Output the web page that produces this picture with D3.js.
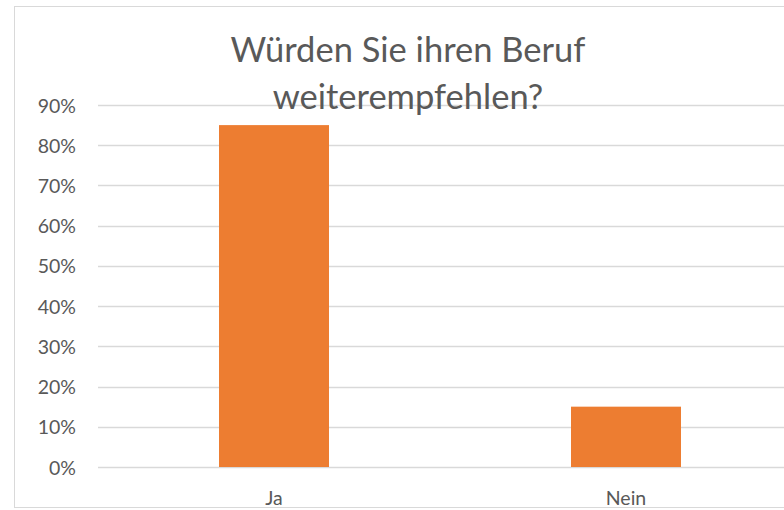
<!DOCTYPE html>
<html><head><meta charset="utf-8">
<script src="https://cdn.jsdelivr.net/npm/d3@7"></script>
<style>html,body{margin:0;padding:0;background:#fff;}svg{display:block;}</style>
</head><body>
<svg id="chart" width="784" height="510"></svg>
<script>
const categories = ["Ja", "Nein"];
const values = [0.85, 0.15];
const yTicks = [0, 0.1, 0.2, 0.3, 0.4, 0.5, 0.6, 0.7, 0.8, 0.9];
const titleLines = ["Würden Sie ihren Beruf", "weiterempfehlen?"];

const svg = d3.select("#chart");
const font = "Lato, 'Open Sans', sans-serif";
const textColor = "#595959";

svg.append("rect").attr("x", 14.5).attr("y", 6.5).attr("width", 800).attr("height", 501)
  .attr("fill", "#fff").attr("stroke", "#d9d9d9").attr("stroke-width", 1);

const x = d3.scaleBand().domain(categories).range([98, 802]).paddingInner(0.6875).paddingOuter(0.34375);
const y = d3.scaleLinear().domain([0, 0.9]).range([467, 105]);

const grid = svg.append("g");
grid.selectAll("line").data(yTicks).join("line")
  .attr("x1", 98).attr("x2", 802)
  .attr("y1", d => Math.round(y(d)) + 0.5).attr("y2", d => Math.round(y(d)) + 0.5)
  .attr("stroke", "#d9d9d9").attr("stroke-width", 1.3);

svg.append("g").selectAll("rect").data(categories).join("rect")
  .attr("x", d => x(d)).attr("width", x.bandwidth())
  .attr("y", (d, i) => y(values[i])).attr("height", (d, i) => y(0) - y(values[i]))
  .attr("fill", "#ED7D31");

const yAxis = d3.axisLeft(y).tickValues(yTicks).tickFormat(d3.format(".0%")).tickSize(0).tickPadding(0);
const ya = svg.append("g").attr("transform", "translate(76,0)").call(yAxis);
ya.select(".domain").remove();
ya.selectAll("text").attr("font-family", font).attr("font-size", 19.5).attr("fill", textColor).attr("dy", "0.36em");

const xAxis = d3.axisBottom(x).tickSize(0).tickPadding(0);
const xa = svg.append("g").attr("transform", "translate(0,491)").call(xAxis);
xa.select(".domain").remove();
xa.selectAll("text").attr("font-family", font).attr("font-size", 19.5).attr("fill", textColor).attr("dy", "0.71em");

const title = svg.append("g");
title.selectAll("text").data(titleLines).join("text")
  .attr("x", 408).attr("y", (d, i) => 62 + i * 47)
  .attr("text-anchor", "middle").attr("font-family", font).attr("font-size", 34.5)
  .attr("fill", textColor).text(d => d);
</script>
</body></html>
